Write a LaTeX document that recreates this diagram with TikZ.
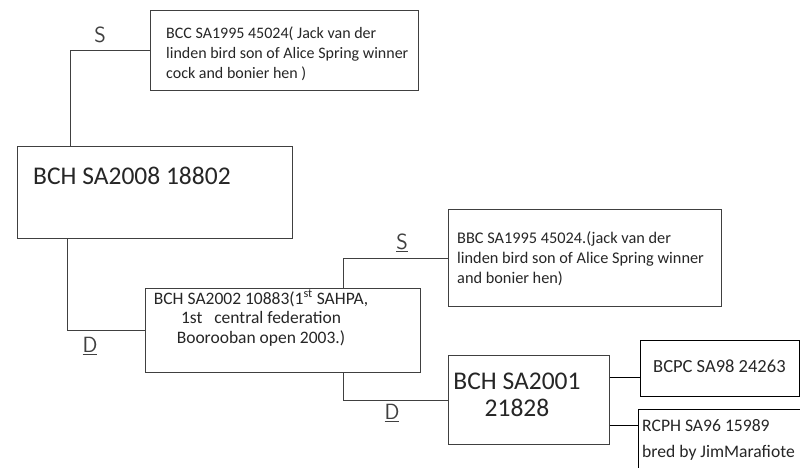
\documentclass[tikz,border=0pt]{standalone}
\usepackage{fontspec}
\setmainfont{Carlito}
\begin{document}
\begin{tikzpicture}[x=1pt,y=-1pt,
  hand/.style={draw=black!75, line width=0.8pt},
  hbox/.style={hand, rectangle, inner sep=0pt, anchor=north west},
  pbox/.style={draw=black, line width=1.3pt, rectangle, inner sep=0pt, anchor=north west},
  print/.style={draw=black, line width=1.6pt},
  small/.style={font=\fontsize{16}{20}\selectfont, inner sep=0pt, text=black!85},
  big/.style={font=\fontsize{25.5}{27}\selectfont, inner sep=0pt, text=black!85},
  mid/.style={font=\fontsize{18.5}{26}\selectfont, inner sep=0pt, text=black!85},
  handlbl/.style={font=\sffamily\fontsize{22}{22}\selectfont, inner sep=0pt, text=black!75}]
\fill[white] (0,0) rectangle (800,467);
\useasboundingbox (0,0) rectangle (800,467);

% boxes
\node[hbox, minimum width=268pt, minimum height=80pt] (bcc) at (150,10) {};
\node[hbox, minimum width=275pt, minimum height=92pt] (main) at (17,146) {};
\node[hbox, minimum width=275pt, minimum height=84pt] (sa2002) at (145,288) {};
\node[hbox, minimum width=273pt, minimum height=97pt] (bbc) at (448,209) {};
\node[hbox, minimum width=161pt, minimum height=89pt] (sa2001) at (448,355) {};
\node[pbox, minimum width=159pt, minimum height=56pt] (bcpc) at (640,340) {};
\node[pbox, minimum width=175pt, minimum height=90pt] (rcph) at (638,409) {};

% texts
\node[small, anchor=west, align=left] (tbcc) at (166,54)
  {BCC SA1995 45024( Jack van der\\linden bird son of Alice Spring winner\\cock and bonier hen )};
\node[big, anchor=west] (tmain) at (33,176) {BCH SA2008 18802};
\node[small, font=\fontsize{17.5}{19.5}\selectfont, align=center] (tsa2002) at (261,318)
  {BCH SA2002 10883(1\textsuperscript{st} SAHPA,\\1st\ \ \ central federation\\Boorooban open 2003.)};
\node[small, font=\fontsize{16.3}{20}\selectfont, anchor=west, align=left] (tbbc) at (457,259)
  {BBC SA1995 45024.(jack van der\\linden bird son of Alice Spring winner\\and bonier hen)};
\node[big, align=center] (tsa2001) at (517,395) {BCH SA2001\\21828};
\node[mid, anchor=west] (tbcpc) at (653,366) {BCPC SA98 24263};
\node[mid, font=\fontsize{17.6}{26}\selectfont, anchor=west, align=left] (trcph) at (642,440) {RCPH SA96 15989\\bred by JimMarafiote};

% hand labels
\node[handlbl] (s1) at (100,35) {S};
\node[handlbl] (s2) at (402,243) {\underline{S}};
\node[handlbl] (d1) at (90,346) {\underline{D}};
\node[handlbl] (d2) at (392,413) {\underline{D}};

% connectors
\draw[hand] ([xshift=53pt]main.north west) |- (bcc.west);
\draw[hand] ([xshift=50pt]main.south west) |- (sa2002.west);
\draw[hand] ([xshift=198pt]sa2002.north west) |- (bbc.west);
\draw[hand] ([xshift=198pt]sa2002.south west) |- (sa2001.west);
\coordinate (c1) at ([yshift=22.5pt]sa2001.east);
\coordinate (c2) at ([yshift=-25.5pt]sa2001.east);
\draw[print] (c1) -- (c1 -| bcpc.west);
\draw[print] (c2) -- (c2 -| rcph.west);
\end{tikzpicture}
\end{document}
